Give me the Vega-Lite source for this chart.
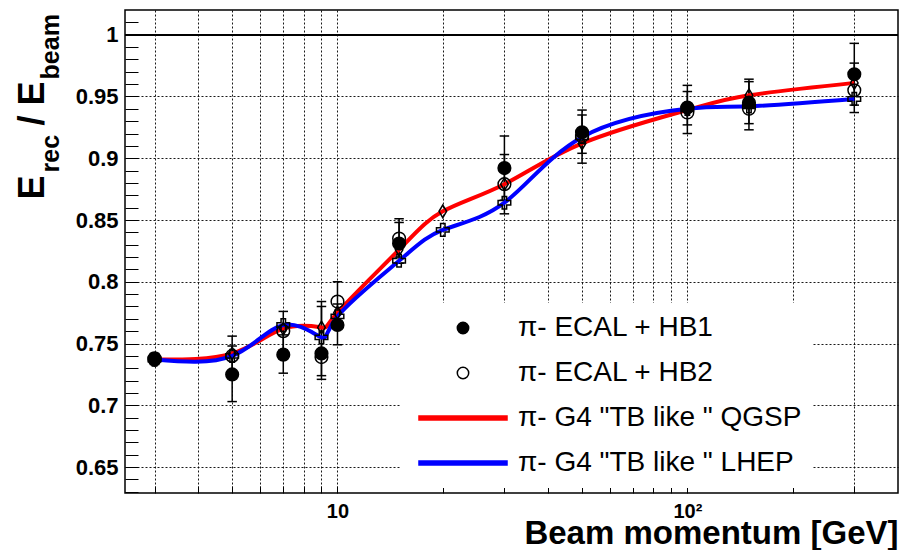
{
  "$schema": "https://vega.github.io/schema/vega-lite/v6.json",
  "width": 773,
  "height": 483,
  "autosize": {"type": "none"},
  "padding": {"left": 125, "top": 10, "right": 1, "bottom": 57},
  "background": "white",
  "config": {
    "view": {"stroke": "black", "strokeWidth": 1.5},
    "font": "Liberation Sans"
  },
  "datasets": {
    "pts": [
      {"series": "π- ECAL + HB1", "p": 3, "v": 0.737, "lo": 0.733, "hi": 0.741},
      {"series": "π- ECAL + HB1", "p": 5, "v": 0.725, "lo": 0.703, "hi": 0.748},
      {"series": "π- ECAL + HB1", "p": 7, "v": 0.741, "lo": 0.726, "hi": 0.757},
      {"series": "π- ECAL + HB1", "p": 9, "v": 0.742, "lo": 0.724, "hi": 0.780},
      {"series": "π- ECAL + HB1", "p": 10, "v": 0.765, "lo": 0.749, "hi": 0.782},
      {"series": "π- ECAL + HB1", "p": 15, "v": 0.831, "lo": 0.815, "hi": 0.848},
      {"series": "π- ECAL + HB1", "p": 30, "v": 0.892, "lo": 0.866, "hi": 0.918},
      {"series": "π- ECAL + HB1", "p": 50, "v": 0.921, "lo": 0.904, "hi": 0.939},
      {"series": "π- ECAL + HB1", "p": 100, "v": 0.941, "lo": 0.927, "hi": 0.954},
      {"series": "π- ECAL + HB1", "p": 150, "v": 0.945, "lo": 0.928, "hi": 0.962},
      {"series": "π- ECAL + HB1", "p": 300, "v": 0.968, "lo": 0.943, "hi": 0.993},
      {"series": "π- ECAL + HB2", "p": 3, "v": 0.738, "lo": 0.734, "hi": 0.742},
      {"series": "π- ECAL + HB2", "p": 5, "v": 0.740, "lo": 0.724, "hi": 0.756},
      {"series": "π- ECAL + HB2", "p": 7, "v": 0.760, "lo": 0.745, "hi": 0.776},
      {"series": "π- ECAL + HB2", "p": 9, "v": 0.739, "lo": 0.721, "hi": 0.784},
      {"series": "π- ECAL + HB2", "p": 10, "v": 0.784, "lo": 0.768, "hi": 0.800},
      {"series": "π- ECAL + HB2", "p": 15, "v": 0.835, "lo": 0.820, "hi": 0.851},
      {"series": "π- ECAL + HB2", "p": 30, "v": 0.879, "lo": 0.855, "hi": 0.903},
      {"series": "π- ECAL + HB2", "p": 50, "v": 0.918, "lo": 0.896, "hi": 0.935},
      {"series": "π- ECAL + HB2", "p": 100, "v": 0.937, "lo": 0.920, "hi": 0.959},
      {"series": "π- ECAL + HB2", "p": 150, "v": 0.940, "lo": 0.923, "hi": 0.964},
      {"series": "π- ECAL + HB2", "p": 300, "v": 0.955, "lo": 0.937, "hi": 0.977},
      {"series": "π- G4 \"TB like \" QGSP", "p": 3, "v": 0.737},
      {"series": "π- G4 \"TB like \" QGSP", "p": 5, "v": 0.742},
      {"series": "π- G4 \"TB like \" QGSP", "p": 7, "v": 0.762},
      {"series": "π- G4 \"TB like \" QGSP", "p": 9, "v": 0.763},
      {"series": "π- G4 \"TB like \" QGSP", "p": 10, "v": 0.775},
      {"series": "π- G4 \"TB like \" QGSP", "p": 15, "v": 0.826},
      {"series": "π- G4 \"TB like \" QGSP", "p": 20, "v": 0.857},
      {"series": "π- G4 \"TB like \" QGSP", "p": 30, "v": 0.879},
      {"series": "π- G4 \"TB like \" QGSP", "p": 50, "v": 0.912},
      {"series": "π- G4 \"TB like \" QGSP", "p": 100, "v": 0.939},
      {"series": "π- G4 \"TB like \" QGSP", "p": 150, "v": 0.951},
      {"series": "π- G4 \"TB like \" QGSP", "p": 300, "v": 0.961},
      {"series": "π- G4 \"TB like \" LHEP", "p": 3, "v": 0.737},
      {"series": "π- G4 \"TB like \" LHEP", "p": 5, "v": 0.740},
      {"series": "π- G4 \"TB like \" LHEP", "p": 7, "v": 0.765},
      {"series": "π- G4 \"TB like \" LHEP", "p": 9, "v": 0.755},
      {"series": "π- G4 \"TB like \" LHEP", "p": 10, "v": 0.772},
      {"series": "π- G4 \"TB like \" LHEP", "p": 15, "v": 0.817},
      {"series": "π- G4 \"TB like \" LHEP", "p": 20, "v": 0.842},
      {"series": "π- G4 \"TB like \" LHEP", "p": 30, "v": 0.864},
      {"series": "π- G4 \"TB like \" LHEP", "p": 50, "v": 0.917},
      {"series": "π- G4 \"TB like \" LHEP", "p": 100, "v": 0.940},
      {"series": "π- G4 \"TB like \" LHEP", "p": 150, "v": 0.942},
      {"series": "π- G4 \"TB like \" LHEP", "p": 300, "v": 0.948}
    ]
  },
  "data": {"name": "pts"},
  "resolve": {
    "axis": {"y": "independent", "x": "independent"},
    "scale": {"shape": "independent", "fill": "independent", "stroke": "independent"}
  },
  "layer": [
    {
      "mark": {"type": "rule", "color": "black", "strokeWidth": 1.5},
      "encoding": {"y": {"datum": 1, "type": "quantitative", "axis": null}}
    },
    {
      "transform": [{"filter": "datum.lo != null"}],
      "mark": {"type": "rule", "color": "black", "strokeWidth": 1.5},
      "encoding": {
        "x": {"field": "p", "type": "quantitative", "axis": null},
        "y": {"field": "lo", "type": "quantitative", "axis": null},
        "y2": {"field": "hi"}
      }
    },
    {
      "transform": [{"filter": "datum.lo != null"}],
      "mark": {"type": "point", "shape": "M-1,0H1", "size": 90, "stroke": "black", "strokeWidth": 1.5, "opacity": 1},
      "encoding": {
        "x": {"field": "p", "type": "quantitative", "axis": null},
        "y": {"field": "lo", "type": "quantitative", "axis": null}
      }
    },
    {
      "transform": [{"filter": "datum.lo != null"}],
      "mark": {"type": "point", "shape": "M-1,0H1", "size": 90, "stroke": "black", "strokeWidth": 1.5, "opacity": 1},
      "encoding": {
        "x": {"field": "p", "type": "quantitative", "axis": null},
        "y": {"field": "hi", "type": "quantitative", "axis": null}
      }
    },
    {
      "transform": [{"filter": "indexof(datum.series, 'G4') >= 0"}],
      "mark": {"type": "line", "strokeWidth": 4, "interpolate": "natural"},
      "encoding": {
        "x": {
          "field": "p",
          "type": "quantitative",
          "scale": {"type": "log", "domain": [2.47, 400], "nice": false},
          "axis": {
            "orient": "top",
            "offset": -483,
            "values": [3, 4, 5, 6, 7, 8, 9, 10, 20, 30, 40, 50, 60, 70, 80, 90, 100, 200, 300],
            "labels": false,
            "grid": false,
            "domain": false,
            "ticks": true,
            "tickSize": 7,
            "tickColor": "black",
            "tickWidth": 1,
            "title": null
          }
        },
        "y": {
          "field": "v",
          "type": "quantitative",
          "scale": {"domain": [0.629, 1.02], "nice": false, "zero": false},
          "axis": {
            "orient": "left",
            "values": [0.65, 0.70, 0.75, 0.80, 0.85, 0.90, 0.95, 1.00],
            "labelExpr": "datum.value > 0.999 ? '1' : format(datum.value, '.2~f')",
            "labelOverlap": false,
            "labelFont": "Liberation Sans",
            "labelFontWeight": "bold",
            "labelFontSize": 22,
            "labelColor": "black",
            "labelPadding": 7,
            "grid": true,
            "gridColor": "black",
            "gridDash": [2, 2],
            "gridWidth": 1,
            "gridOpacity": {"condition": {"test": "datum.value < 0.99", "value": 0.9}, "value": 0},
            "domain": false,
            "ticks": false,
            "title": "E\u00a0\u00a0\u00a0\u00a0\u00a0/\u00a0E",
            "titleFont": "Liberation Sans",
            "titleFontWeight": "bold",
            "titleFontSize": 36,
            "titleColor": "black",
            "titleAngle": -90,
            "titleAlign": "left",
            "titleBaseline": "alphabetic",
            "titleX": -82,
            "titleY": 189
          }
        },
        "color": {
          "field": "series",
          "type": "nominal",
          "scale": {"domain": ["π- G4 \"TB like \" QGSP", "π- G4 \"TB like \" LHEP"], "range": ["#ff0000", "#0000ff"]},
          "legend": null
        }
      }
    },
    {
      "mark": {"type": "point", "stroke": "black", "strokeWidth": 1.5, "opacity": 1, "size": 160},
      "encoding": {
        "x": {
          "field": "p",
          "type": "quantitative",
          "axis": {
            "orient": "bottom",
            "values": [3, 4, 5, 6, 7, 8, 9, 10, 20, 30, 40, 50, 60, 70, 80, 90, 100, 200, 300],
            "labelExpr": "datum.value == 10 ? '10' : (datum.value == 100 ? '10²' : '')",
            "labelOverlap": false,
            "labelFont": "Liberation Sans",
            "labelFontWeight": "bold",
            "labelFontSize": 20,
            "labelColor": "black",
            "labelPadding": 8,
            "labelBaseline": "top",
            "grid": true,
            "gridColor": "black",
            "gridDash": [2, 2],
            "gridWidth": 1,
            "gridOpacity": 0.9,
            "domain": false,
            "ticks": false,
            "title": "Beam momentum [GeV]",
            "titleFont": "Liberation Sans",
            "titleFontWeight": "bold",
            "titleFontSize": 33,
            "titleColor": "black",
            "titleAlign": "right",
            "titleBaseline": "alphabetic",
            "titleX": 773,
            "titleY": 50
          }
        },
        "y": {
          "field": "v",
          "type": "quantitative",
          "axis": {
            "orient": "right",
            "offset": -773,
            "values": [0.63, 0.64, 0.65, 0.66, 0.67, 0.68, 0.69, 0.70, 0.71, 0.72, 0.73, 0.74, 0.75, 0.76, 0.77, 0.78, 0.79, 0.80, 0.81, 0.82, 0.83, 0.84, 0.85, 0.86, 0.87, 0.88, 0.89, 0.90, 0.91, 0.92, 0.93, 0.94, 0.95, 0.96, 0.97, 0.98, 0.99, 1.00, 1.01],
            "ticks": true,
            "tickSize": 13,
            "tickColor": "black",
            "tickWidth": 1,
            "labels": false,
            "domain": false,
            "grid": false,
            "title": "rec\u00a0\u00a0\u00a0\u00a0\u00a0\u00a0\u00a0\u00a0beam",
            "titleFont": "Liberation Sans",
            "titleFontWeight": "bold",
            "titleFontSize": 25,
            "titleColor": "black",
            "titleAngle": -90,
            "titleAlign": "left",
            "titleBaseline": "alphabetic",
            "titleX": -67,
            "titleY": 162
          }
        },
        "shape": {
          "field": "series",
          "type": "nominal",
          "scale": {
            "domain": ["π- ECAL + HB1", "π- ECAL + HB2", "π- G4 \"TB like \" QGSP", "π- G4 \"TB like \" LHEP"],
            "range": ["circle", "circle", "M0,-1L0.6,0L0,1L-0.6,0Z", "M-0.35,-1H0.35V-0.35H1V0.35H0.35V1H-0.35V0.35H-1V-0.35H-0.35Z"]
          },
          "legend": null
        },
        "fill": {
          "field": "series",
          "type": "nominal",
          "scale": {
            "domain": ["π- ECAL + HB1", "π- ECAL + HB2", "π- G4 \"TB like \" QGSP", "π- G4 \"TB like \" LHEP"],
            "range": ["black", "transparent", "transparent", "transparent"]
          },
          "legend": null
        }
      }
    },
    {
      "transform": [{"filter": "datum.p < 0"}],
      "mark": {"type": "point", "opacity": 1},
      "encoding": {
        "shape": {
          "field": "series",
          "type": "nominal",
          "scale": {
            "domain": ["π- ECAL + HB1", "π- ECAL + HB2", "π- G4 \"TB like \" QGSP", "π- G4 \"TB like \" LHEP"],
            "range": ["circle", "circle", "M-7.72,-0.35H7.72V0.35H-7.72Z", "M-7.72,-0.35H7.72V0.35H-7.72Z"]
          },
          "legend": {
            "title": null,
            "orient": "none",
            "legendX": 275,
            "legendY": 293,
            "fillColor": "white",
            "padding": 11,
            "labelFont": "Liberation Sans",
            "labelFontSize": 28,
            "labelColor": "black",
            "labelLimit": 800,
            "rowPadding": 17,
            "symbolSize": 130,
            "symbolStrokeWidth": 1.5,
            "symbolOffset": 38,
            "labelOffset": 41
          }
        },
        "stroke": {
          "field": "series",
          "type": "nominal",
          "scale": {
            "domain": ["π- ECAL + HB1", "π- ECAL + HB2", "π- G4 \"TB like \" QGSP", "π- G4 \"TB like \" LHEP"],
            "range": ["black", "black", "#ff0000", "#0000ff"]
          },
          "legend": {
            "title": null,
            "orient": "none",
            "legendX": 275,
            "legendY": 293,
            "fillColor": "white",
            "padding": 11,
            "labelFont": "Liberation Sans",
            "labelFontSize": 28,
            "labelColor": "black",
            "labelLimit": 800,
            "rowPadding": 17,
            "symbolSize": 130,
            "symbolStrokeWidth": 1.5,
            "symbolOffset": 38,
            "labelOffset": 41
          }
        },
        "fill": {
          "field": "series",
          "type": "nominal",
          "scale": {
            "domain": ["π- ECAL + HB1", "π- ECAL + HB2", "π- G4 \"TB like \" QGSP", "π- G4 \"TB like \" LHEP"],
            "range": ["black", "transparent", "#ff0000", "#0000ff"]
          },
          "legend": {
            "title": null,
            "orient": "none",
            "legendX": 275,
            "legendY": 293,
            "fillColor": "white",
            "padding": 11,
            "labelFont": "Liberation Sans",
            "labelFontSize": 28,
            "labelColor": "black",
            "labelLimit": 800,
            "rowPadding": 17,
            "symbolSize": 130,
            "symbolStrokeWidth": 1.5,
            "symbolOffset": 38,
            "labelOffset": 41
          }
        }
      }
    }
  ]
}
